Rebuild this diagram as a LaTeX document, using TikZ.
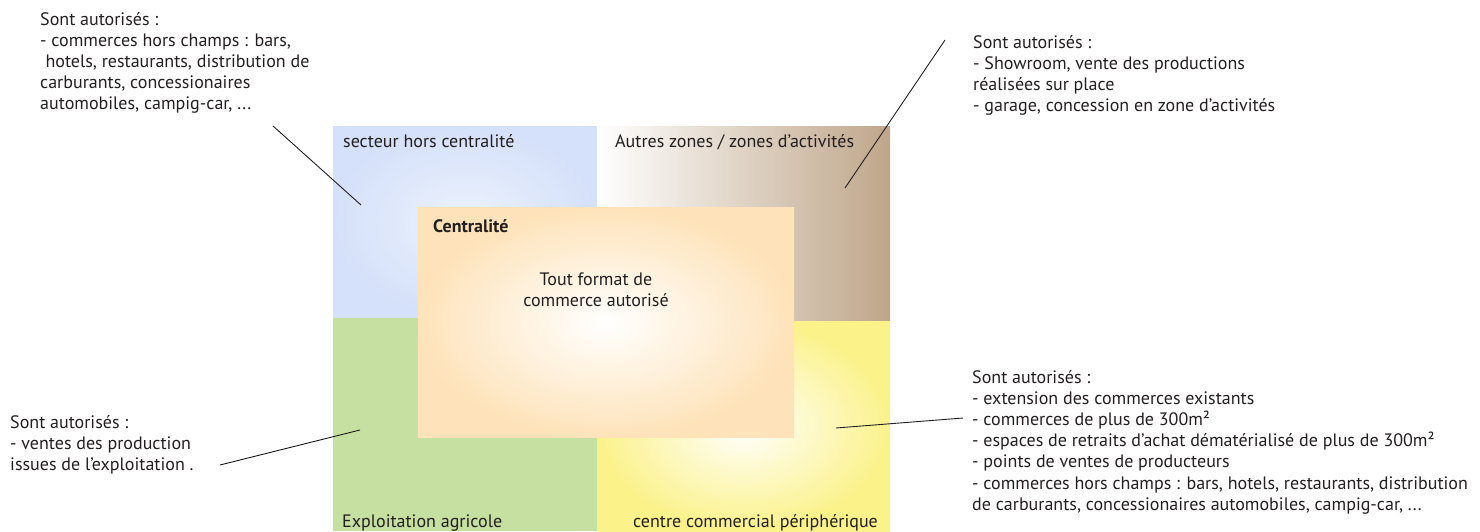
\documentclass[tikz,border=0pt]{standalone}
\usepackage{fontspec}
\setmainfont{PT Sans}
\definecolor{zoneBlue}{HTML}{D5E1FA}
\definecolor{zoneGreen}{HTML}{C5E0A1}
\definecolor{zoneYellow}{HTML}{FBF28A}
\definecolor{zoneTan}{HTML}{BFA68A}
\definecolor{zonePeach}{HTML}{FEE3BA}
\definecolor{textGrey}{HTML}{231F20}

\begin{document}
\begin{tikzpicture}[x=1pt, y=-1pt]
		\tikzstyle{every node}=[inner sep=0pt, align=left, text=textGrey, font=\fontsize{18}{21.2}\selectfont]
		\tikzstyle{zone label}=[anchor=base west]
		\tikzstyle{note}=[anchor=north west]
		\useasboundingbox (0,0) rectangle (1480,531);
		% zones
		\shade[inner color=zoneBlue!45!white, outer color=zoneBlue] (333,126) rectangle (597,318);
		\shade[left color=white, right color=zoneTan] (597,126) rectangle (890,321);
		\fill[zoneGreen] (333,318) rectangle (597,531);
		\shade[inner color=white, outer color=zoneYellow] (597,321) rectangle (890,531);
		\shade[inner color=white, outer color=zonePeach] (418,207) rectangle (794,437);
		% zone names
		\node[zone label] (hors) at (343,147) {secteur hors centralité};
		\node[zone label] (autres) at (615,147) {Autres zones / zones d’activités};
		\node[zone label, font=\fontsize{18}{21.2}\selectfont\bfseries] (centre) at (433,232) {Centralité};
		\node[align=center] (tout) at (596,290) {Tout format de\\commerce autorisé};
		\node[zone label] (agri) at (342,527) {Exploitation agricole};
		\node[zone label] (peri) at (633,527) {centre commercial périphérique};
		% notes
		\node[note] (noteHors) at (40,12) {Sont autorisés :\\- commerces hors champs : bars,\\\hspace{0.3em}hotels, restaurants, distribution de\\carburants, concessionaires\\automobiles, campig-car, ...};
		\node[note] (noteAutres) at (973,35) {Sont autorisés :\\- Showroom, vente des productions\\réalisées sur place\\- garage, concession en zone d’activités};
		\node[note] (noteAgri) at (10,415) {Sont autorisés :\\- ventes des production\\issues de l’exploitation .};
		\node[note] (notePeri) at (972,370) {Sont autorisés :\\- extension des commerces existants\\- commerces de plus de 300m²\\- espaces de retraits d’achat dématérialisé de plus de 300m²\\- points de ventes de producteurs\\- commerces hors champs : bars, hotels, restaurants, distribution\\de carburants, concessionaires automobiles, campig-car, ...};
		% connectors
		\coordinate (hA) at (273,126);
		\coordinate (hB) at (361,205);
		\coordinate (aA) at (945,40);
		\coordinate (aB) at (845,188);
		\coordinate (gA) at (220,465);
		\coordinate (gB) at (360,430);
		\coordinate (pA) at (963,418);
		\coordinate (pB) at (836,428);
		\draw [line width=0.9pt, textGrey] (hA) -- (hB);
		\draw [line width=0.9pt, textGrey] (aA) -- (aB);
		\draw [line width=0.9pt, textGrey] (gA) -- (gB);
		\draw [line width=0.9pt, textGrey] (pA) -- (pB);
\end{tikzpicture}
\end{document}
